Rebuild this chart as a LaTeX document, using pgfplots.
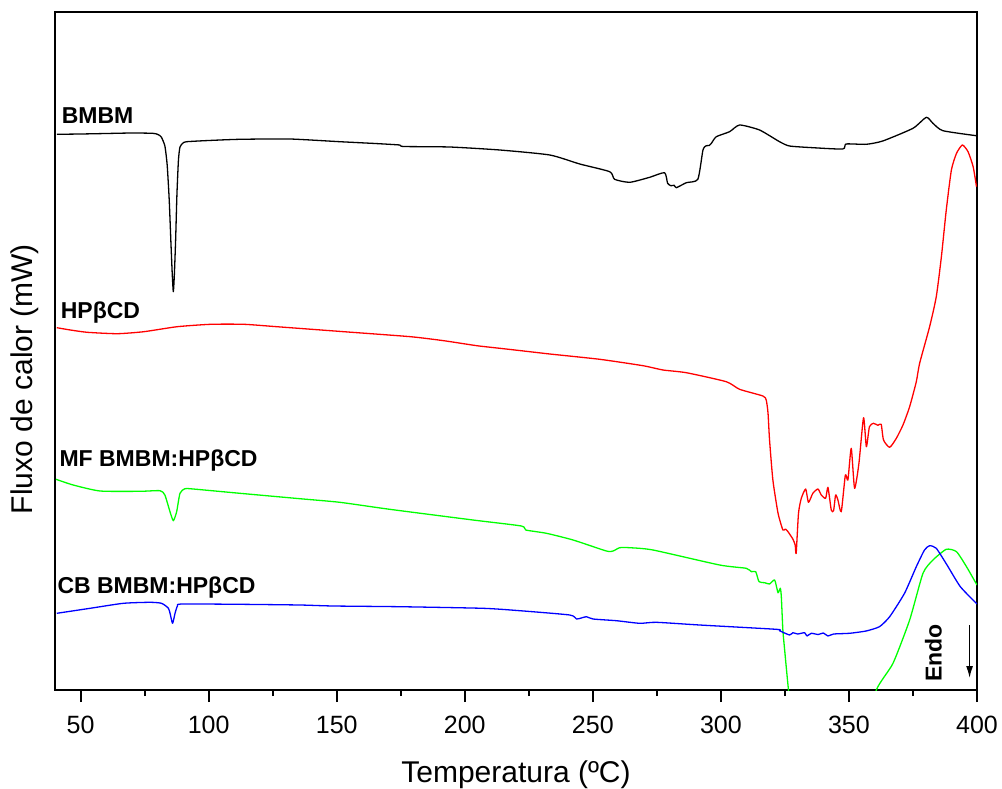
\documentclass[border=0pt]{standalone}
\usepackage{fontspec}
\setmainfont{Liberation Sans}
\usepackage{pgfplots}
\pgfplotsset{compat=1.18}
\usetikzlibrary{arrows.meta}

% DSC curves; the vertical value is an arbitrary offset scale (top = 12, bottom = 690)
\pgfplotstableread{
T y
40.7 134.3
50 134
60 133.5
70 133
78.2 133.3
80.2 134.5
81.5 137
82.9 146
83.8 165
84.6 200
85.3 245
85.8 275
86.2 291.7
86.6 275
87.1 240
87.6 195
88.2 160
88.8 147
90 143
91.4 141.7
100 140.5
112.2 139.3
131.7 139
151.2 141.7
165 143.5
174.6 145
176 146.5
194.1 147
213.7 150
233.2 155
244.9 164
256.6 171.7
258.5 179.3
264.4 182.3
272.2 177.3
278.0 172.7
279.2 183.3
280.5 185.7
281.8 185.3
282.6 187.7
286.5 182.7
291.0 179.3
293.0 150
294.3 145.7
295.4 145.5
296.3 143.3
298.2 136.7
303.4 131.7
307.3 125
315.1 130
322.9 141.7
326.8 146
335.9 147.7
347.6 149
348.9 144
356.7 144.3
363.2 141
375.0 128.3
380.2 117.3
382.8 123.3
386.7 130.7
399.7 135.7
}\bmbm

\pgfplotstableread{
T y
40.7 327.7
46 330
52.6 332.3
64.3 333.7
74.7 331.7
87.7 326.7
100.8 324.3
113.8 324.3
126.6 326.7
152.8 331.7
178.8 336.7
191.8 340.7
204.7 345.7
213.7 348.3
223.0 351
233.2 354
252.7 359.3
269.6 365.7
277.4 370
286.5 372.7
302.1 381.7
307.3 389.3
316.4 396
317.7 400
318.4 413
319.0 440
320.3 480
322.3 513
324.2 530
325.2 529
326.2 531.7
328.1 539
329.0 545
329.4 553.3
330.3 513.3
331.4 498.3
333.1 489
334.2 502.3
335.9 493.3
337.9 489
339.2 495
340.9 498.3
341.8 487.3
343.1 510
344.0 510.7
344.8 495
345.7 500
347.0 511.7
348.6 475
349.6 480
350.9 448.3
352.2 488.3
353.9 463.3
355.7 417.7
356.8 446.7
358.0 426.7
359.6 423.3
361.3 425.3
362.6 424.3
363.5 440
365.9 447.3
368.5 438.3
371.1 425
373.7 406.7
376.3 381.7
377.6 363.3
381.5 326.7
384.1 296.7
386.1 256.7
388.0 210
390.0 170
392.0 153.3
394.3 145
396.5 151.7
398.5 166.7
399.8 186.7
}\hpbcd

\pgfplotstableread{
T y
40.4 479.3
47.1 485
57.6 491
73.2 491.3
81.0 490.7
82.9 495
84.9 511.7
86.2 520.7
87.5 511.7
88.8 493.3
90.7 488.7
94.0 489
112.2 493.3
135.6 498.7
151.2 502.3
170.7 509.3
203.2 520
222.1 526
223.8 530
231.9 533.3
242.3 540
255.3 551
257.9 551
260.5 547.7
264.4 547.7
273.5 550
299.5 565
309.9 568.3
311.9 571.7
313.6 571.7
314.9 581.7
317.1 582.7
319.0 584
321.0 580
322.3 592.7
323.2 588.3
323.6 596.7
324.2 630
324.9 650
326.4 690
328.8 740
356.0 740
360.7 690
367.2 663.3
373.7 620
378.9 573.3
382.8 560
388.0 549.3
392.0 551.7
395.9 566.7
400 585
}\mf

\pgfplotstableread{
T y
40.7 613.3
53.7 608.3
66.7 603.3
77.1 602.3
81.6 603.3
84.2 608
84.9 613
85.9 623.3
86.9 613
87.8 606
89.4 604
112.2 604.3
135.6 605
148.6 606
174.6 606.7
207.1 608.3
221.5 610.7
241.0 615
243.6 619
245.5 618
247.5 616.7
250.1 619
259.2 620.7
268.3 623.3
274.8 622.3
291.7 625
321.6 629.3
322.9 630.7
326.8 635
328.1 632.7
330.0 634
332.7 632.7
333.6 636
335.3 633.3
338.0 634.5
340.0 633
341.8 636
344.0 634
350.2 633.3
356.7 631
361.9 626.7
365.9 616.7
371.7 593.3
376.3 566.7
379.5 550
381.5 545.7
384.1 548.3
388.3 565
393.5 586.7
400 604
}\cb

\begin{document}
\begin{tikzpicture}
\path[use as bounding box] (-55pt,-99pt) rectangle (947pt,690pt);
\begin{axis}[
  scale only axis,
  width=922pt, height=678pt,
  xmin=40, xmax=400,
  ymin=12, ymax=690, y dir=reverse,
  xtick={50,100,...,400},
  minor x tick num=1,
  ytick=\empty,
  xtick pos=bottom,
  tick align=outside,
  major tick length=12pt,
  minor tick length=6pt,
  axis line style={line width=2.4pt},
  every tick/.style={black, line width=2.2pt},
  every minor tick/.style={black, line width=2.2pt},
  /pgf/number format/assume math mode=true,
  xticklabel style={font=\fontsize{25}{30}\selectfont, anchor=base},
  xticklabel shift=31pt,
  xlabel={Temperatura (ºC)},
  ylabel={Fluxo de calor (mW)},
  label style={font=\fontsize{30}{36}\selectfont},
  xlabel style={at={(axis description cs:0.5,-0.137)}, anchor=base},
  ylabel style={at={(axis description cs:-0.0325,0.4587)}, anchor=center},
  every axis plot/.append style={line width=1.3pt, line join=round, smooth, tension=0.35},
]
\addplot[black] table[x=T,y=y] {\bmbm};
\addplot[red] table[x=T,y=y] {\hpbcd};
\addplot[color={rgb,255:red,0;green,255;blue,0}] table[x=T,y=y] {\mf};
\addplot[blue] table[x=T,y=y] {\cb};

\begin{scope}[every node/.style={inner sep=0pt, font=\fontsize{23}{27}\selectfont\bfseries}]
\node[anchor=base west] at (axis cs:42.6,123.3) {BMBM};
\node[anchor=base west] at (axis cs:42.2,318) {HPβCD};
\node[anchor=base west] at (axis cs:41.7,466.7) {MF BMBM:HPβCD};
\node[anchor=base west] at (axis cs:40.9,593) {CB BMBM:HPβCD};
\node[rotate=90] at (axis cs:383.0,653) {Endo};
\end{scope}
\draw[-{Latex[length=12pt,width=7pt]}, line width=1.4pt] (axis cs:397.1,625) -- (axis cs:397.1,678);
\end{axis}
\end{tikzpicture}
\end{document}
